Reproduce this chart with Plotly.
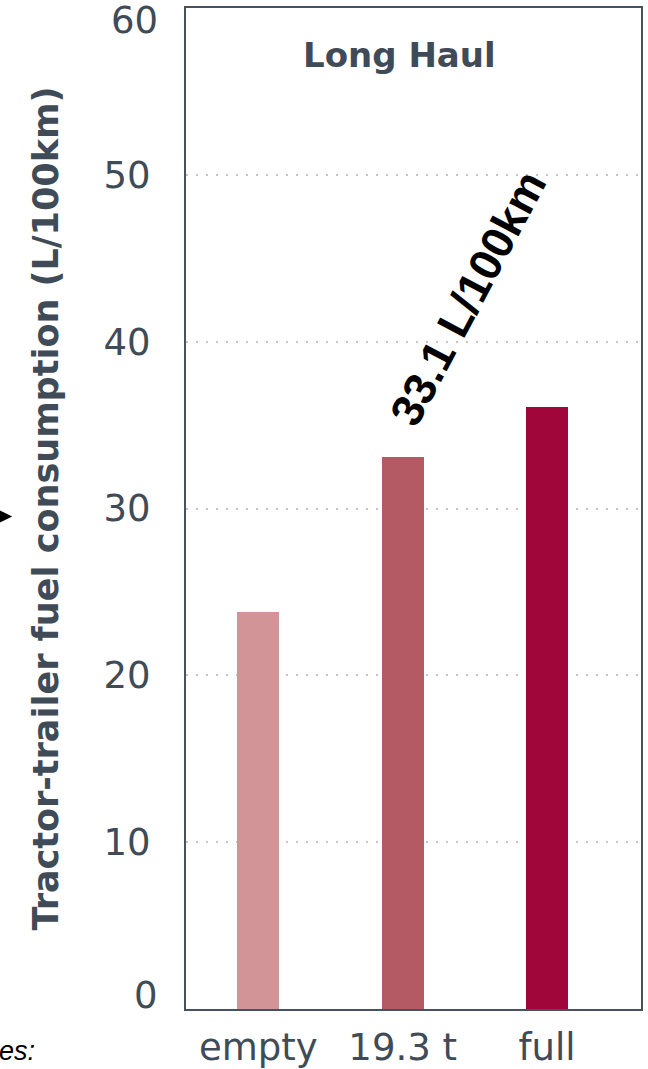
import plotly.graph_objects as go

categories = ["empty", "19.3 t", "full"]
values = [23.8, 33.1, 36.1]
bar_colors = ["#D29496", "#B45A64", "#A0063A"]
y_ticks = [0, 10, 20, 30, 40, 50, 60]

TEXT = "#3F4B56"
FONT = "DejaVu Sans"

fig = go.Figure()
fig.add_trace(go.Bar(
    x=categories, y=values, marker=dict(color=bar_colors, line=dict(width=0)),
    width=0.29, showlegend=False, hoverinfo="x+y",
))

fig.update_layout(
    width=648, height=1069,
    margin=dict(l=186, r=7, t=8, b=60, pad=0, autoexpand=False),
    paper_bgcolor="white", plot_bgcolor="white",
    font=dict(family=FONT, color=TEXT, size=37),
    bargap=0,
)
fig.update_xaxes(
    type="category", range=[-0.5, 2.65], automargin=False,
    showline=True, mirror=True, linecolor="#46525D", linewidth=2,
    showgrid=False, ticks="", ticklabelstandoff=5,
    tickfont=dict(size=37, color=TEXT, family=FONT),
)
inner_ticks = y_ticks[1:-1]
fig.update_yaxes(
    range=[0, 60], tickvals=inner_ticks, ticktext=[str(v) for v in inner_ticks],
    automargin=False,
    showline=True, mirror=True, linecolor="#46525D", linewidth=2,
    showgrid=True, gridcolor="#C4C4C4", gridwidth=2, griddash="2px,8px",
    zeroline=False, ticks="", ticklabelstandoff=26,
    tickfont=dict(size=37, color=TEXT, family=FONT),
    title=dict(text="Tractor-trailer fuel consumption (L/100km)",
               font=dict(size=35, color=TEXT, family=FONT, weight="bold"), standoff=34),
)

# end tick labels, drawn nudged inward as in the reference
for v, shift in ((y_ticks[0], 14), (y_ticks[-1], -12)):
    fig.add_annotation(x=0, xref="paper", y=v, yref="y", text=str(v),
                       showarrow=False, xanchor="right", yanchor="middle",
                       xshift=-26, yshift=shift, font=dict(size=37, color=TEXT, family=FONT))

# panel title
fig.add_annotation(x=0.47, xref="paper", y=57.2, yref="y", text="Long Haul",
                   showarrow=False, xanchor="center", yanchor="middle",
                   font=dict(size=34, color=TEXT, family=FONT, weight="bold"))

# value callout
fig.add_annotation(x=1.45, xref="x", y=42.6, yref="y", text="<b>33.1 L/100km</b>",
                   showarrow=False, textangle=-62, xanchor="center", yanchor="middle",
                   font=dict(size=45, color="black", family="Liberation Sans"))

# cropped remnants of neighbouring panel
fig.add_annotation(x=-0.382, xref="paper", y=0.492, yref="paper", text="",
                   showarrow=True, arrowhead=2, arrowsize=1.3, arrowwidth=2,
                   arrowcolor="black", ax=-30, ay=0)
fig.add_annotation(x=-0.3275, xref="paper", y=-0.042, yref="paper", text="<i>es:</i>",
                   showarrow=False, xanchor="right", yanchor="middle",
                   font=dict(size=27, color="black", family="Liberation Sans"))

fig.write_html("out.html", config={"displayModeBar": False},
               post_script="document.body.style.margin='0';document.body.style.overflow='hidden';")
